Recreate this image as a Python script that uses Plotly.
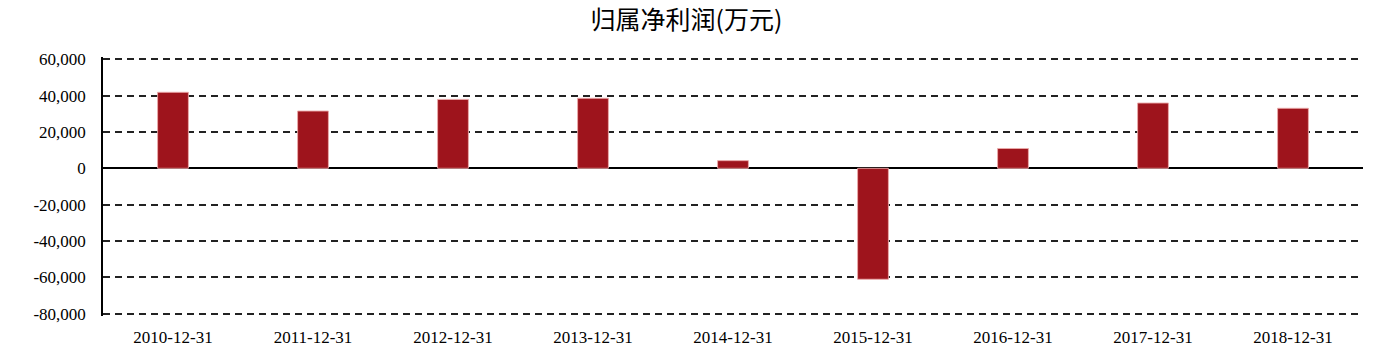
import plotly.graph_objects as go

categories = ["2010-12-31", "2011-12-31", "2012-12-31", "2013-12-31", "2014-12-31",
              "2015-12-31", "2016-12-31", "2017-12-31", "2018-12-31"]
profit = [41800, 31500, 37900, 38500, 4200, -61000, 10900, 35900, 33000]
y_ticks = [60000, 40000, 20000, 0, -20000, -40000, -60000, -80000]
y_labels = ["60,000", "40,000", "20,000", "0", "-20,000", "-40,000", "-60,000", "-80,000"]

fig = go.Figure()
fig.add_trace(go.Bar(
    x=categories, y=profit,
    marker=dict(color="#9E141C", line=dict(color="rgba(235,170,170,0.9)", width=1)),
))

fig.update_layout(
    width=1398, height=364,
    margin=dict(l=103, r=35, t=57, b=48),
    paper_bgcolor="white", plot_bgcolor="white",
    bargap=0.78,
    showlegend=False,
    title=dict(text="归属净利润(万元)", x=0.491, xanchor="center", y=0.945, yanchor="middle",
               font=dict(family="Noto Sans CJK SC", size=25, color="black")),
    font=dict(family="Liberation Serif", size=17, color="black"),
)
fig.update_xaxes(
    type="category", showgrid=False, showline=False, zeroline=False,
    ticks="", ticklabelstandoff=9,
    tickfont=dict(family="Liberation Serif", size=17, color="black"),
)
fig.update_yaxes(
    range=[-81200, 61200], tickvals=y_ticks, ticktext=y_labels,
    showgrid=True, gridcolor="#222222", griddash="7px,5px", gridwidth=1.5,
    zeroline=True, zerolinecolor="black", zerolinewidth=1.5,
    showline=True, linecolor="black", linewidth=1.5,
    ticks="", ticklabelstandoff=12,
    tickfont=dict(family="Liberation Serif", size=17, color="black"),
)

fig.write_html("out.html")
